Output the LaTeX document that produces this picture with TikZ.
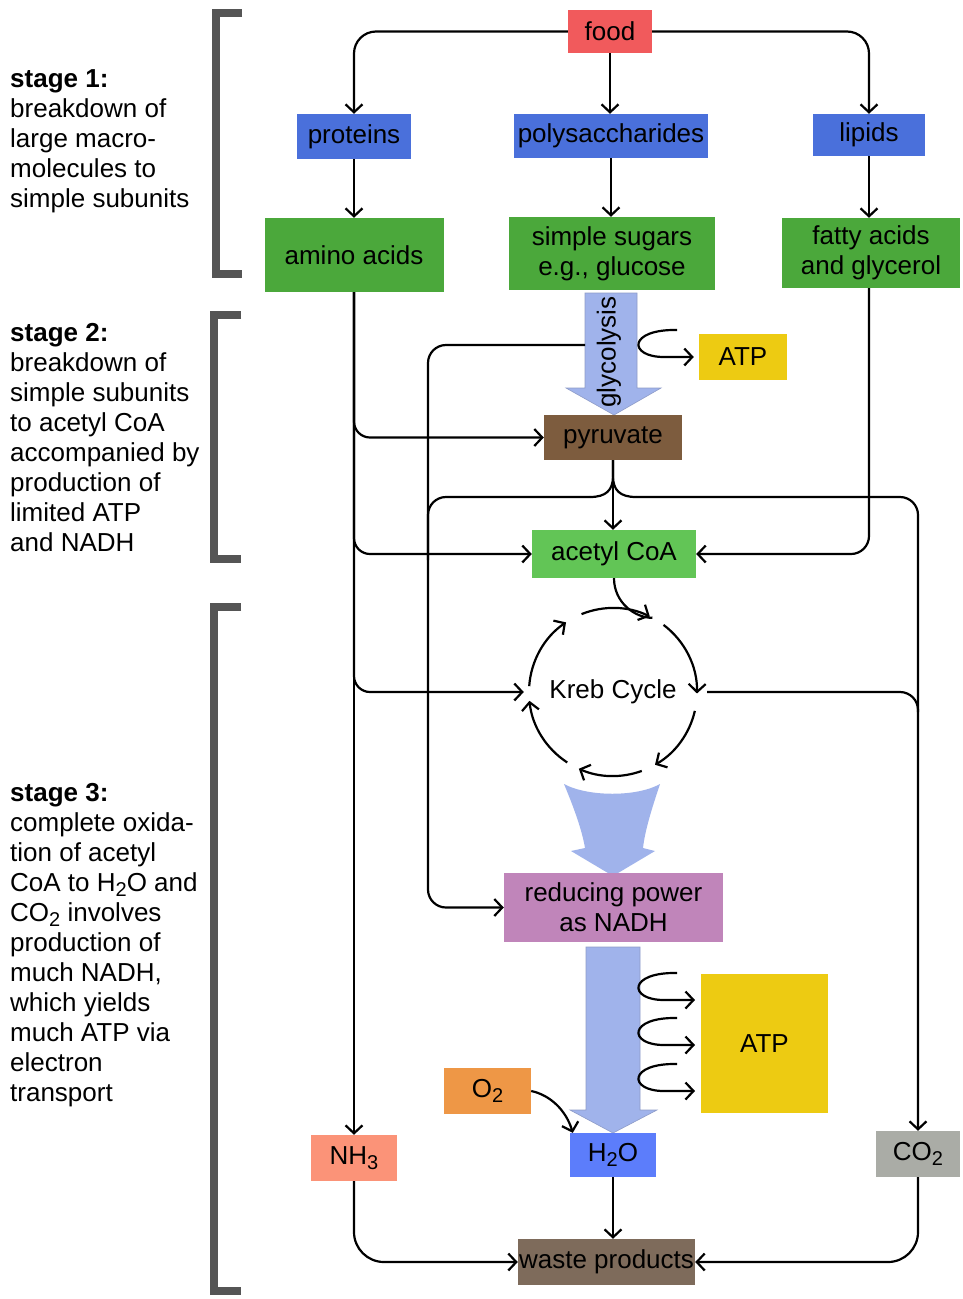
\documentclass[tikz,border=0pt]{standalone}
\usepackage{fontspec}
\setmainfont{Liberation Sans}
\usetikzlibrary{arrows.meta,calc}
\definecolor{foodred}{HTML}{F15A5C}
\definecolor{protblue}{HTML}{4A70DB}
\definecolor{darkgreen}{HTML}{4BA83B}
\definecolor{lightgreen}{HTML}{62C556}
\definecolor{atpyellow}{HTML}{EDCB12}
\definecolor{pyrbrown}{HTML}{7D5C3E}
\definecolor{nadhpurple}{HTML}{C085BA}
\definecolor{arrowblue}{HTML}{A0B3EB}
\definecolor{arrowedge}{HTML}{8E9CC8}
\definecolor{oxorange}{HTML}{EE9746}
\definecolor{waterblue}{HTML}{5C7DFB}
\definecolor{ammsalmon}{HTML}{FB9378}
\definecolor{cogray}{HTML}{AAACA6}
\definecolor{wastebrown}{HTML}{7E6B5B}
\definecolor{bracketgray}{HTML}{555555}
\newcommand{\subs}[1]{\raisebox{-0.4ex}{\fontsize{20}{20}\selectfont #1}}
\begin{document}
\begin{tikzpicture}[x=1pt,y=1pt,
  box/.style={inner sep=0pt, align=center, text=black, font=\fontsize{26}{30}\selectfont},
  stagetext/.style={inner sep=0pt, align=left, anchor=north west, font=\fontsize{26}{30}\selectfont},
  line/.style={line width=2.2pt, draw=black},
  arr/.style={line, -{Straight Barb[length=8pt,width=17pt]}},
  bigarrow/.style={fill=arrowblue, draw=arrowedge, line width=0.6pt},
  bracket/.style={line width=8pt, draw=bracketgray, line join=miter}
]
\useasboundingbox (0,0) rectangle (963,-1299);
\fill[white] (0,0) rectangle (963,-1299);

% brackets
\draw[bracket] (242,-13) -- (216,-13) -- (216,-274) -- (242,-274);
\draw[bracket] (241,-315) -- (214,-315) -- (214,-559) -- (241,-559);
\draw[bracket] (241,-607) -- (214,-607) -- (214,-1291) -- (241,-1291);

% stage texts
\node[stagetext] (s1) at (10,-69) {\textbf{stage 1:}\\breakdown of\\large macro-\\molecules to\\simple subunits};
\node[stagetext] (s2) at (10,-323) {\textbf{stage 2:}\\breakdown of\\simple subunits\\to acetyl CoA\\accompanied by\\production of\\limited ATP\\and NADH};
\node[stagetext] (s3) at (10,-783) {\textbf{stage 3:}\\complete oxida-\\tion of acetyl\\CoA to H\subs{2}O and\\CO\subs{2} involves\\production of\\much NADH,\\which yields\\much ATP via\\electron\\transport};

% big blue arrows
\draw[bigarrow] (585,-293) -- (637,-293) -- (637,-388) -- (661,-388) -- (614,-415) -- (566,-388) -- (585,-388) -- cycle;
\node[rotate=90, inner sep=0pt, font=\fontsize{26}{30}\selectfont] (gly) at (609,-352) {glycolysis};
\fill[arrowblue] (564,-784) .. controls (588,-797) and (637,-797) .. (660,-784)
  .. controls (652,-808) and (645,-830) .. (643,-848) -- (655,-851) -- (613,-876) -- (571,-851) -- (585,-848)
  .. controls (582,-830) and (574,-808) .. (564,-784) -- cycle;
\draw[bigarrow] (586,-947) -- (640,-947) -- (640,-1110) -- (657,-1110) -- (613,-1133) -- (570,-1110) -- (586,-1110) -- cycle;

% nodes
\node[box, fill=foodred, minimum width=84, minimum height=43] (food) at (610,-31.5) {food};
\node[box, fill=protblue, minimum width=114, minimum height=45] (proteins) at (354,-136.5) {proteins};
\node[box, fill=protblue, minimum width=194, minimum height=44] (polys) at (611,-136) {polysaccharides};
\node[box, fill=protblue, minimum width=112, minimum height=42] (lipids) at (869,-135) {lipids};
\node[box, fill=darkgreen, minimum width=179, minimum height=74] (amino) at (354,-255) {amino acids};
\node[box, fill=darkgreen, minimum width=206, minimum height=73] (sugars) at (612,-253.5) {simple sugars\\e.g., glucose};
\node[box, fill=darkgreen, minimum width=178, minimum height=70] (fatty) at (871,-253) {fatty acids\\and glycerol};
\node[box, fill=atpyellow, minimum width=88, minimum height=46] (atp1) at (743,-357) {ATP};
\node[box, fill=pyrbrown, minimum width=138, minimum height=45] (pyruvate) at (613,-437.5) {pyruvate};
\node[box, fill=lightgreen, minimum width=164, minimum height=48] (acetyl) at (614,-554) {acetyl CoA};
\node[box, circle, minimum size=168] (kreb) at (613,-692) {Kreb Cycle};
\node[box, fill=nadhpurple, minimum width=219, minimum height=69] (nadh) at (613.5,-907.5) {reducing power\\as NADH};
\node[box, fill=atpyellow, minimum width=127, minimum height=139] (atp2) at (764.5,-1043.5) {ATP};
\node[box, fill=oxorange, minimum width=87, minimum height=46] (o2) at (487.5,-1091) {O\subs{2}};
\node[box, fill=waterblue, minimum width=86, minimum height=44] (h2o) at (613,-1155) {H\subs{2}O};
\node[box, fill=ammsalmon, minimum width=86, minimum height=46] (nh3) at (354,-1158) {NH\subs{3}};
\node[box, fill=cogray, minimum width=84, minimum height=46] (co2) at (918,-1154) {CO\subs{2}};
\node[box, fill=wastebrown, minimum width=177, minimum height=46] (waste) at (606.5,-1262) {waste products};

% helper coordinates
\coordinate (glyL) at (585,-345);
\coordinate (vL) at (428,-560);
\coordinate (vx) at (428,0);
\coordinate (yL) at (590,-497);
\coordinate (yR) at (636,-497);
\coordinate (krebR) at (707,-692);
\coordinate (vR) at (918,-712);

% stage 1 connectors
\draw[arr, rounded corners=22] (food.west) -| (proteins.north);
\draw[arr] (food.south) -- (food.south |- polys.north);
\draw[arr, rounded corners=22] (food.east) -| (lipids.north);
\draw[arr] (proteins.south) -- (amino.north);
\draw[arr] (polys.south) -- (polys.south |- sugars.north);
\draw[arr] (lipids.south) -- (lipids.south |- fatty.north);

% amino acids trunk and branches
\draw[arr] (amino.south) -- (nh3.north);
\draw[arr, rounded corners=16] (amino.south) |- (pyruvate.west);
\draw[arr, rounded corners=16] (amino.south) |- (acetyl.west);
\draw[arr, rounded corners=16, shorten >=5pt] (amino.south) |- (kreb.west);

% fatty acids
\draw[arr, rounded corners=18] (lipids.south |- fatty.south) |- (acetyl.east);

% pyruvate
\draw[arr] (pyruvate.south) -- (pyruvate.south |- acetyl.north);
\draw[line] (pyruvate.south) -- ++(0,-16) .. controls +(0,-14) and +(16,0) .. (yL);
\draw[line] (pyruvate.south) -- ++(0,-16) .. controls +(0,-14) and +(-16,0) .. (yR);
\draw[arr, rounded corners=18] (yL) -| (nadh.west -| vx) -- (nadh.west);
\draw[arr, rounded corners=18] (yR) -| (co2.north);

% glycolysis side line
\draw[line, rounded corners=18] (glyL) -| (vL);
\draw[arr] (677,-330) .. controls (628,-329) and (628,-357) .. (664,-357) -- ($(atp1.west)+(-5,0)$);

% Kreb cycle
\draw[line, rounded corners=18] (krebR) -| (vR);
\draw[line] (acetyl.south) .. controls +(0,-24) and +(-18,0) .. ($(kreb.center)+(62:84)$);
\draw[arr] (kreb.center) ++(112:84) arc[start angle=112, end angle=64, radius=84];
\draw[arr] (kreb.center) ++(53:84) arc[start angle=53, end angle=-1, radius=84];
\draw[arr] (kreb.center) ++(-13:84) arc[start angle=-13, end angle=-60, radius=84];
\draw[arr] (kreb.center) ++(-70:84) arc[start angle=-70, end angle=-114, radius=84];
\draw[arr] (kreb.center) ++(-123:84) arc[start angle=-123, end angle=-174, radius=84];
\draw[arr] (kreb.center) ++(176:84) arc[start angle=176, end angle=124, radius=84];

% electron transport hooks
\foreach \dy in {0,45,91}{
  \draw[arr] (677,-973-\dy) .. controls (628,-972-\dy) and (628,-1000-\dy) .. (664,-1000-\dy) -- (695,-1000-\dy);
}

% O2 to water
\draw[arr] (o2.east) .. controls (550,-1095) and (566,-1110) .. ($(h2o.north west)+(3,0)$);

% waste
\draw[arr, rounded corners=30] (nh3.south) |- (waste.west);
\draw[arr] (h2o.south) -- (h2o.south |- waste.north);
\draw[arr, rounded corners=30] (co2.south) |- (waste.east);
\end{tikzpicture}
\end{document}
